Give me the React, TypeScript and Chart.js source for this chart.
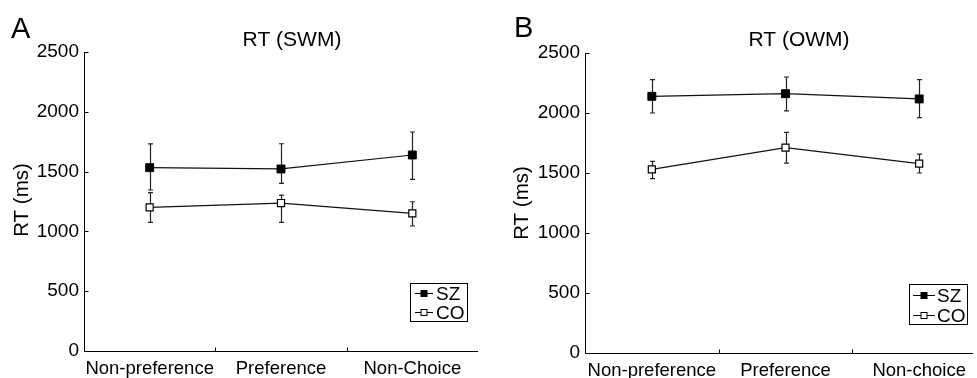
import React, { useEffect, useRef } from "react";
import { Chart, registerables } from "chart.js";

Chart.register(...registerables);

// ---------- data ----------
const swmCategories = ["Non-preference", "Preference", "Non-Choice"];
const owmCategories = ["Non-preference", "Preference", "Non-choice"];
const yTickValues = [0, 500, 1000, 1500, 2000, 2500];

const swmSZ = [1533, 1522, 1639];
const swmSZHigh = [1731, 1733, 1831];
const swmSZLow = [1346, 1402, 1435];
const swmCO = [1201, 1237, 1151];
const swmCOHigh = [1324, 1304, 1248];
const swmCOLow = [1075, 1075, 1045];

const owmSZ = [2139, 2161, 2117];
const owmSZHigh = [2278, 2300, 2278];
const owmSZLow = [2000, 2017, 1961];
const owmCO = [1530, 1711, 1578];
const owmCOHigh = [1597, 1839, 1658];
const owmCOLow = [1453, 1583, 1500];

const seriesNames = ["SZ", "CO"];
const panelLetters = ["A", "B"];
const panelTitles = ["RT (SWM)", "RT (OWM)"];
const yAxisLabel = "RT (ms)";

const FONT = "'Liberation Sans', Arial, Helvetica, sans-serif";

// ---------- plugins ----------
const errorBarPlugin = {
  id: "errorBars",
  beforeDatasetsDraw(chart: any) {
    const ctx = chart.ctx;
    const xs = chart.scales.x;
    const ys = chart.scales.y;
    ctx.save();
    ctx.strokeStyle = "#222";
    ctx.lineWidth = 1.2;
    chart.data.datasets.forEach((ds: any) => {
      ds.data.forEach((_v: number, i: number) => {
        const x = Math.round(xs.getPixelForValue(i)) + 0.5;
        const yh = ys.getPixelForValue(ds.errHigh[i]);
        const yl = ys.getPixelForValue(ds.errLow[i]);
        ctx.beginPath();
        ctx.moveTo(x, yh);
        ctx.lineTo(x, yl);
        ctx.moveTo(x - 2.5, yh);
        ctx.lineTo(x + 2.5, yh);
        ctx.moveTo(x - 2.5, yl);
        ctx.lineTo(x + 2.5, yl);
        ctx.stroke();
      });
    });
    ctx.restore();
  },
};

const decorPlugin = {
  id: "decor",
  afterDraw(chart: any, _args: any, o: any) {
    const ctx = chart.ctx;
    const { left, right, top, bottom } = chart.chartArea;
    const ys = chart.scales.y;
    ctx.save();
    ctx.strokeStyle = "#000";
    ctx.lineWidth = 1;
    // axes
    const L = Math.round(left) + 0.5;
    const B = Math.round(bottom) + 0.5;
    const xEnd = Math.min(right, o.xAxisEnd);
    ctx.beginPath();
    ctx.moveTo(L, Math.round(top));
    ctx.lineTo(L, B);
    ctx.lineTo(xEnd, B);
    ctx.stroke();
    // y ticks (inward)
    ctx.beginPath();
    ys.ticks.forEach((t: any) => {
      const y = Math.round(ys.getPixelForValue(t.value)) + 0.5;
      ctx.moveTo(L, y);
      ctx.lineTo(L + 4, y);
    });
    // x ticks (inward) at category boundaries
    const n = chart.data.labels.length;
    for (let i = 1; i <= n; i++) {
      const x = Math.round(left + (i * (right - left)) / n) + 0.5;
      if (x > xEnd) continue;
      ctx.moveTo(x, B);
      ctx.lineTo(x, B - 4);
    }
    ctx.stroke();

    // letter
    ctx.fillStyle = "#000";
    ctx.textBaseline = "alphabetic";
    ctx.textAlign = "left";
    ctx.font = `29px ${FONT}`;
    ctx.fillText(o.letter, o.letterX, o.letterY);
    // title
    ctx.textAlign = "center";
    ctx.font = `21px ${FONT}`;
    ctx.fillText(o.title, o.titleX, o.titleY);
    // y label
    ctx.save();
    ctx.translate(o.ylabX, o.ylabY);
    ctx.rotate(-Math.PI / 2);
    ctx.textBaseline = "middle";
    ctx.textAlign = "center";
    ctx.font = `20.5px ${FONT}`;
    ctx.fillText(o.ylab, 0, 0);
    ctx.restore();

    // legend
    const lg = o.legend;
    ctx.lineWidth = 1;
    ctx.strokeStyle = "#000";
    ctx.strokeRect(lg.x + 0.5, lg.y + 0.5, lg.w, lg.h);
    chart.data.datasets.forEach((ds: any, k: number) => {
      const cy = Math.round(lg.rowY[k]) + 0.5;
      ctx.beginPath();
      ctx.moveTo(lg.lineX0, cy);
      ctx.lineTo(lg.lineX1, cy);
      ctx.stroke();
      const mx = (lg.lineX0 + lg.lineX1) / 2;
      const s = 6;
      ctx.fillStyle = ds.pointBackgroundColor;
      ctx.fillRect(mx - s / 2, cy - s / 2, s, s);
      ctx.strokeRect(mx - s / 2, cy - s / 2, s, s);
      ctx.fillStyle = "#000";
      ctx.textAlign = "left";
      ctx.textBaseline = "middle";
      ctx.font = `19px ${FONT}`;
      ctx.fillText(ds.label, lg.textX, cy + 1);
    });
    ctx.restore();
  },
};

function buildConfig(
  labels: string[],
  sz: number[],
  szHi: number[],
  szLo: number[],
  co: number[],
  coHi: number[],
  coLo: number[],
  padding: any,
  yWidth: number,
  xHeight: number,
  decor: any
): any {
  return {
    type: "line",
    data: {
      labels,
      datasets: [
        {
          label: seriesNames[0],
          data: sz,
          errHigh: szHi,
          errLow: szLo,
          borderColor: "#111",
          borderWidth: 1.2,
          pointStyle: "rect",
          pointRadius: 5.6,
          pointBackgroundColor: "#000",
          pointBorderColor: "#000",
          pointBorderWidth: 1,
          tension: 0,
          fill: false,
        },
        {
          label: seriesNames[1],
          data: co,
          errHigh: coHi,
          errLow: coLo,
          borderColor: "#111",
          borderWidth: 1.2,
          pointStyle: "rect",
          pointRadius: 5,
          pointBackgroundColor: "#fff",
          pointBorderColor: "#000",
          pointBorderWidth: 1.2,
          tension: 0,
          fill: false,
        },
      ],
    },
    options: {
      responsive: false,
      animation: false,
      devicePixelRatio: 1,
      events: [],
      layout: { padding },
      plugins: {
        legend: { display: false },
        tooltip: { enabled: false },
        title: { display: false },
        decor,
      },
      scales: {
        x: {
          type: "category",
          offset: true,
          grid: { display: false, drawTicks: false, offset: true },
          border: { display: false },
          ticks: {
            color: "#000",
            padding: 7,
            maxRotation: 0,
            autoSkip: false,
            font: { family: FONT, size: 18.5 },
          },
          afterFit: (s: any) => {
            s.height = xHeight;
          },
        },
        y: {
          min: 0,
          max: 2500,
          grid: { display: false, drawTicks: false },
          border: { display: false },
          afterBuildTicks: (s: any) => {
            s.ticks = yTickValues.map((v) => ({ value: v }));
          },
          ticks: {
            color: "#000",
            padding: 5,
            font: { family: FONT, size: 19 },
            callback: (v: any) => String(v),
          },
          afterFit: (s: any) => {
            s.width = yWidth;
          },
        },
      },
    },
    plugins: [errorBarPlugin, decorPlugin],
  };
}

export default function App() {
  const leftRef = useRef<HTMLCanvasElement | null>(null);
  const rightRef = useRef<HTMLCanvasElement | null>(null);

  useEffect(() => {
    const left = new Chart(
      leftRef.current as HTMLCanvasElement,
      buildConfig(
        swmCategories,
        swmSZ,
        swmSZHigh,
        swmSZLow,
        swmCO,
        swmCOHigh,
        swmCOLow,
        { left: 24, right: 12, top: 52, bottom: 0 },
        60,
        27,
        {
          letter: panelLetters[0],
          letterX: 11,
          letterY: 38,
          title: panelTitles[0],
          titleX: 292,
          titleY: 46,
          ylab: yAxisLabel,
          ylabX: 22,
          ylabY: 200,
          xAxisEnd: 10000,
          legend: {
            x: 410,
            y: 283,
            w: 57,
            h: 38,
            rowY: [293, 312],
            lineX0: 415,
            lineX1: 433,
            textX: 436,
          },
        }
      )
    );
    const right = new Chart(
      rightRef.current as HTMLCanvasElement,
      buildConfig(
        owmCategories,
        owmSZ,
        owmSZHigh,
        owmSZLow,
        owmCO,
        owmCOHigh,
        owmCOLow,
        { left: 35, right: 14, top: 53, bottom: 0 },
        60,
        25,
        {
          letter: panelLetters[1],
          letterX: 24,
          letterY: 37,
          title: panelTitles[1],
          titleX: 309,
          titleY: 46,
          ylab: yAxisLabel,
          ylabX: 32,
          ylabY: 203,
          xAxisEnd: 483,
          legend: {
            x: 419,
            y: 284,
            w: 58,
            h: 40,
            rowY: [295, 315],
            lineX0: 423,
            lineX1: 445,
            textX: 447,
          },
        }
      )
    );
    return () => {
      left.destroy();
      right.destroy();
    };
  }, []);

  return (
    <div
      style={{
        position: "fixed",
        left: 0,
        top: 0,
        width: 977,
        height: 378,
        overflow: "hidden",
        background: "#fff",
      }}
    >
      <canvas
        ref={leftRef}
        width={490}
        height={378}
        style={{ position: "absolute", left: 0, top: 0, width: 490, height: 378 }}
      />
      <canvas
        ref={rightRef}
        width={510}
        height={378}
        style={{ position: "absolute", left: 490, top: 0, width: 510, height: 378 }}
      />
    </div>
  );
}
